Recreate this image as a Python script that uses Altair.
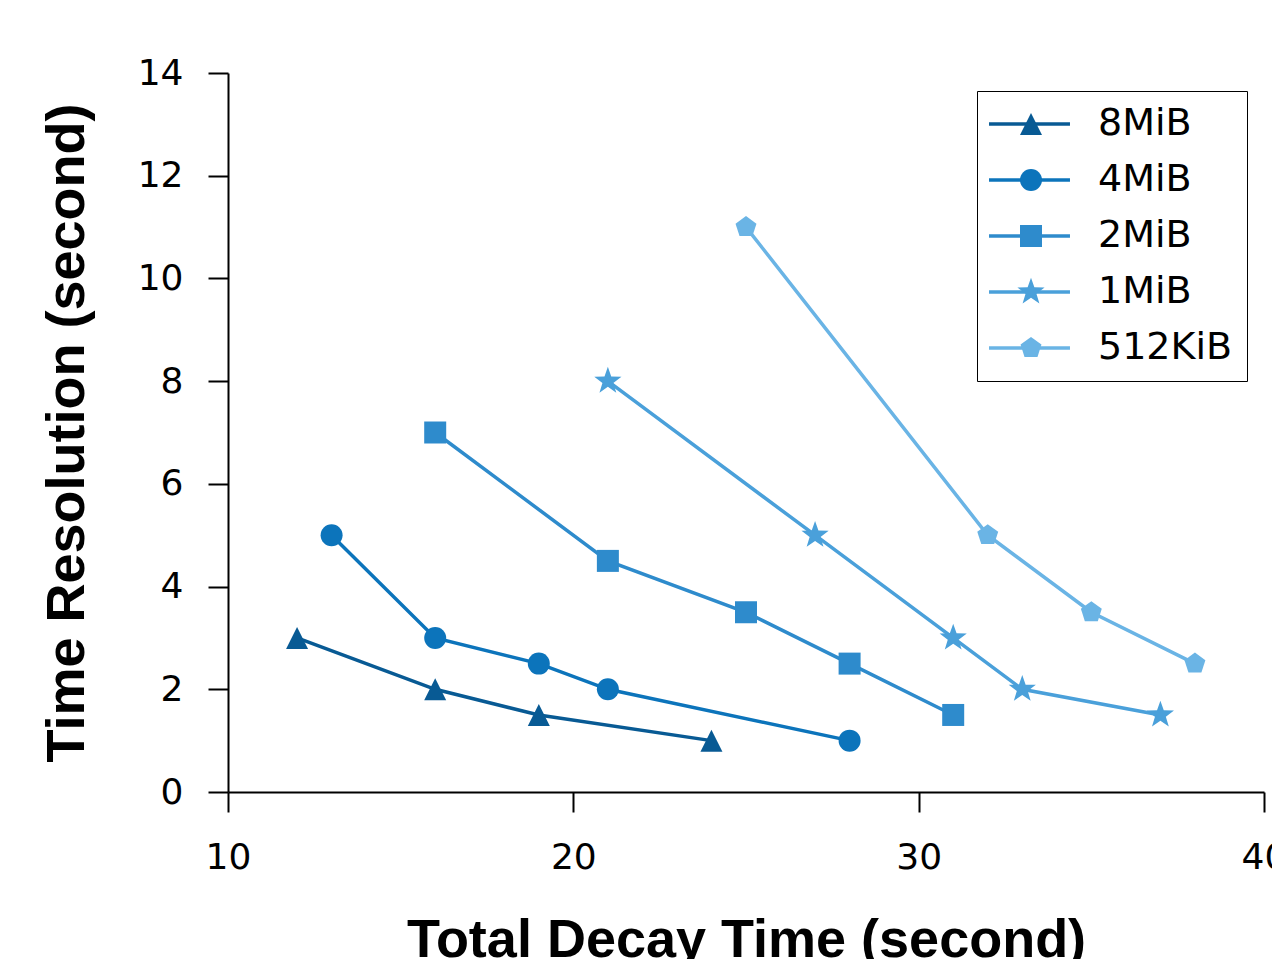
import altair as alt
import pandas as pd

series_order = ["8MiB", "4MiB", "2MiB", "1MiB", "512KiB"]
colors = ["#085a94", "#0c74bb", "#2e8bcc", "#4aa0da", "#6ab4e5"]

x_8m = [12, 16, 19, 24]
y_8m = [3, 2, 1.5, 1]
x_4m = [13, 16, 19, 21, 28]
y_4m = [5, 3, 2.5, 2, 1]
x_2m = [16, 21, 25, 28, 31]
y_2m = [7, 4.5, 3.5, 2.5, 1.5]
x_1m = [21, 27, 31, 33, 37]
y_1m = [8, 5, 3, 2, 1.5]
x_512k = [25, 32, 35, 38]
y_512k = [11, 5, 3.5, 2.5]

x_ticks = [10, 20, 30, 40]
y_ticks = [0, 2, 4, 6, 8, 10, 12, 14]

tri = "M0,-1L1,1L-1,1Z"
pent = "M0,-1L0.951,-0.309L0.588,0.809L-0.588,0.809L-0.951,-0.309Z"
star = ("M0,-1.3L0.306,-0.421L1.236,-0.402L0.495,0.161L0.764,1.052L0,0.52"
        "L-0.764,1.052L-0.495,0.161L-1.236,-0.402L-0.306,-0.421Z")
shapes = [tri, "circle", "square", star, pent]
legend_line = "M-3.68,0L3.68,0"

rows = []
for name, xs, ys in [("8MiB", x_8m, y_8m), ("4MiB", x_4m, y_4m), ("2MiB", x_2m, y_2m),
                     ("1MiB", x_1m, y_1m), ("512KiB", x_512k, y_512k)]:
    for xv, yv in zip(xs, ys):
        rows.append({"x": xv, "y": yv, "series": name, "series_l": name})
df = pd.DataFrame(rows)

tick_font = "DejaVu Sans"
title_font = "Liberation Sans"

xenc = alt.X("x:Q", scale=alt.Scale(domain=[10, 40], nice=False, zero=False),
             axis=alt.Axis(values=x_ticks, title="Total Decay Time (second)", grid=False,
                           domainColor="black", domainWidth=2, tickColor="black", tickWidth=2,
                           tickSize=20, labelFont=tick_font, labelFontSize=36, labelColor="black",
                           labelPadding=28, titleFont=title_font, titleFontSize=54,
                           titleFontWeight="bold", titleColor="black", titlePadding=38,
                           labelFlush=False))
yenc = alt.Y("y:Q", scale=alt.Scale(domain=[0, 14], nice=False, zero=False),
             axis=alt.Axis(values=y_ticks, title="Time Resolution (second)", grid=False,
                           domainColor="black", domainWidth=2, tickColor="black", tickWidth=2,
                           tickSize=20, labelFont=tick_font, labelFontSize=36, labelColor="black",
                           labelPadding=25, titleFont=title_font, titleFontSize=54,
                           titleFontWeight="bold", titleColor="black", titlePadding=43,
                           labelFlush=False))

common = dict(title=None, orient="none", legendX=749, legendY=18, symbolSize=484,
              labelFont=tick_font, labelFontSize=38, labelOffset=48, padding=14,
              rowPadding=18, labelLimit=400)

line_legend = alt.Legend(symbolType=legend_line, symbolStrokeWidth=3.5, symbolOffset=19.5,
                         labelOpacity=0, **common)

lines = alt.Chart(df).mark_line(strokeWidth=3.5).encode(
    x=xenc, y=yenc,
    color=alt.Color("series_l:N", scale=alt.Scale(domain=series_order, range=colors),
                    legend=line_legend),
    order="x:Q",
)

shape_legend_kw = dict(symbolOpacity=1, symbolStrokeWidth=0, symbolOffset=21,
                       labelColor="black", strokeColor="black", **common)

points = alt.Chart(df).mark_point(filled=True, size=484, opacity=1).encode(
    x="x:Q", y="y:Q",
    color=alt.Color("series:N", scale=alt.Scale(domain=series_order, range=colors),
                    legend=alt.Legend(**shape_legend_kw)),
    shape=alt.Shape("series:N", scale=alt.Scale(domain=series_order, range=shapes),
                    legend=alt.Legend(**shape_legend_kw)),
)

chart = alt.layer(lines, points).resolve_scale(color="independent", shape="independent").properties(
    width=1036, height=719,
    background="white",
    autosize=alt.AutoSizeParams(type="none"),
    padding={"left": 220, "top": 65, "right": 8, "bottom": 167},
).configure_view(strokeWidth=0, stroke="transparent")

chart.save("out.html", embed_options={"renderer": "svg", "actions": False})
